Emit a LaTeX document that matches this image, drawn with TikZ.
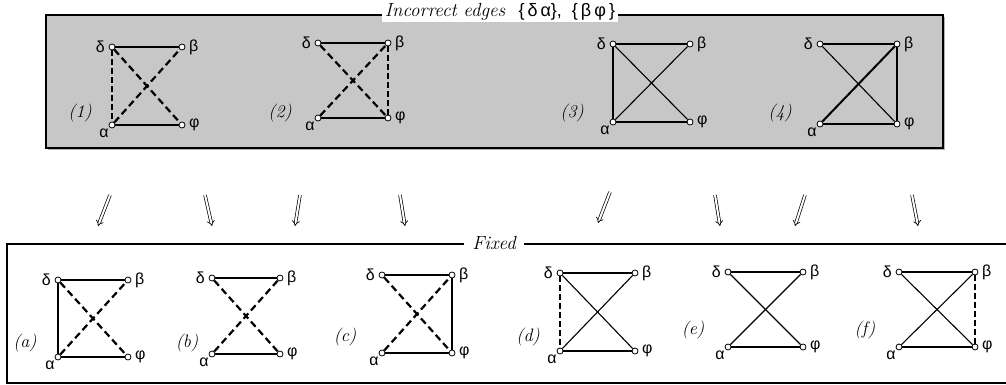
\documentclass[tikz,border=0pt]{standalone}
\usepackage{fontspec}
\newfontfamily\grkfont{Liberation Sans}
\usetikzlibrary{arrows.meta}

\tikzset{
  vtx/.style={circle,draw,fill=white,inner sep=0pt,minimum size=6pt,line width=0.8pt},
  thinedge/.style={line width=1.1pt},
  boldedge/.style={line width=2pt},
  dashedge/.style={line width=2.2pt,dash pattern=on 7pt off 4pt},
  thindash/.style={line width=1.6pt,dash pattern=on 6pt off 3pt},
  numlbl/.style={font=\fontsize{18}{20}\selectfont\itshape},
  grk/.style={font=\fontsize{16}{18}\selectfont\grkfont},
  fixarrow/.style={double,double distance=2pt,line width=0.7pt,-{Implies}},
}

% four vertices: name, x, y (of delta), width, height
\newcommand{\quadgraph}[5]{%
  \node[vtx,label={[grk,label distance=0pt]left:δ}] (#1d) at (#2,#3) {};
  \node[vtx,label={[grk,label distance=0pt]right:β}] (#1b) at (#2+#4,#3) {};
  \node[vtx,label={[grk,label distance=-4pt]below left:α}] (#1a) at (#2,#3+#5) {};
  \node[vtx,label={[grk,label distance=0pt]right:φ}] (#1f) at (#2+#4,#3+#5) {};
}

\begin{document}
\begin{tikzpicture}[x=1pt,y=-1pt,line width=1pt]
  \useasboundingbox (0,0) rectangle (1006,385);

  % top box
  \fill[gray!60] (48,17) rectangle (945,150);
  \draw[fill=black!22,line width=1.3pt] (46,15) rectangle (943,148);
  \node[fill=white,inner xsep=3pt,inner ysep=1pt,font=\fontsize{19}{22}\selectfont\itshape] (ttl) at (500,12)
    {Incorrect edges \ {\upshape\grkfont\fontsize{18}{20}\selectfont \{\,δ\,α\}, \ \{\,β\,φ\,\}}};

  \quadgraph{g1}{112}{47}{70}{78}
  \draw[thinedge] (g1d) -- (g1b);
  \draw[thinedge] (g1a) -- (g1f);
  \draw[thindash] (g1d) -- (g1a);
  \draw[dashedge] (g1d) -- (g1f);
  \draw[dashedge] (g1a) -- (g1b);
  \node[numlbl] (n1) at (80,113) {(1)};

  \quadgraph{g2}{318}{43}{70}{75}
  \draw[thinedge] (g2d) -- (g2b);
  \draw[thinedge] (g2a) -- (g2f);
  \draw[thindash] (g2b) -- (g2f);
  \draw[dashedge] (g2d) -- (g2f);
  \draw[dashedge] (g2a) -- (g2b);
  \node[numlbl] (n2) at (280,113) {(2)};

  \quadgraph{g3}{613}{44}{77}{78}
  \draw[thinedge] (g3d) -- (g3b);
  \draw[boldedge] (g3d) -- (g3a);
  \draw[thinedge] (g3d) -- (g3f);
  \draw[thinedge] (g3a) -- (g3b);
  \draw[thinedge] (g3a) -- (g3f);
  \node[numlbl] (n3) at (572,113) {(3)};

  \quadgraph{g4}{820}{44}{77}{80}
  \draw[thinedge] (g4d) -- (g4b);
  \draw[thinedge] (g4b) -- (g4f);
  \draw[thinedge] (g4d) -- (g4f);
  \draw[boldedge] (g4a) -- (g4b);
  \draw[thinedge] (g4a) -- (g4f);
  \node[numlbl] (n4) at (780,113) {(4)};

  % arrows
  \foreach \i/\xa/\xb/\ya/\yb in {1/110/98/195/226, 2/205/212/195/226, 3/300/295/195/226,
      4/400/405/195/226, 5/610/598/192/223, 6/715/720/195/226, 7/805/795/195/226, 8/912/918/195/226}{
    \coordinate (s\i) at (\xa,\ya);
    \coordinate (t\i) at (\xb,\yb);
    \draw[fixarrow] (s\i) -- (t\i);
  }

  % bottom box
  \draw[line width=1.4pt] (1006,244) -- (7,244) -- (7,383) -- (1006,383);
  \node[fill=white,inner xsep=8pt,inner ysep=1pt,font=\fontsize{19}{22}\selectfont\itshape] (fix) at (494,243) {Fixed};

  \quadgraph{ga}{58}{280}{70}{77}
  \draw[thinedge] (gad) -- (gab);
  \draw[boldedge] (gad) -- (gaa);
  \draw[thinedge] (gaa) -- (gaf);
  \draw[dashedge] (gad) -- (gaf);
  \draw[dashedge] (gaa) -- (gab);
  \node[numlbl] (na) at (25,343) {(a)};

  \quadgraph{gb}{212}{278}{68}{76}
  \draw[thinedge] (gbd) -- (gbb);
  \draw[thinedge] (gba) -- (gbf);
  \draw[dashedge] (gbd) -- (gbf);
  \draw[dashedge] (gba) -- (gbb);
  \node[numlbl] (nb) at (187,343) {(b)};

  \quadgraph{gc}{382}{275}{70}{78}
  \draw[thinedge] (gcd) -- (gcb);
  \draw[boldedge] (gcb) -- (gcf);
  \draw[thinedge] (gca) -- (gcf);
  \draw[dashedge] (gcd) -- (gcf);
  \draw[dashedge] (gca) -- (gcb);
  \node[numlbl] (nc) at (345,337) {(c)};

  \quadgraph{gd}{560}{273}{75}{78}
  \draw[thinedge] (gdd) -- (gdb);
  \draw[thindash] (gdd) -- (gda);
  \draw[thinedge] (gdd) -- (gdf);
  \draw[thinedge] (gda) -- (gdb);
  \draw[thinedge] (gda) -- (gdf);
  \node[numlbl] (nd) at (528,337) {(d)};

  \quadgraph{ge}{728}{272}{75}{75}
  \draw[thinedge] (ged) -- (geb);
  \draw[thinedge] (ged) -- (gef);
  \draw[thinedge] (gea) -- (geb);
  \draw[thinedge] (gea) -- (gef);
  \node[numlbl] (ne) at (693,330) {(e)};

  \quadgraph{gf}{899}{272}{76}{75}
  \draw[thinedge] (gfd) -- (gfb);
  \draw[thindash] (gfb) -- (gff);
  \draw[thinedge] (gfd) -- (gff);
  \draw[thinedge] (gfa) -- (gfb);
  \draw[thinedge] (gfa) -- (gff);
  \node[numlbl] (nf) at (865,330) {(f)};
\end{tikzpicture}
\end{document}
